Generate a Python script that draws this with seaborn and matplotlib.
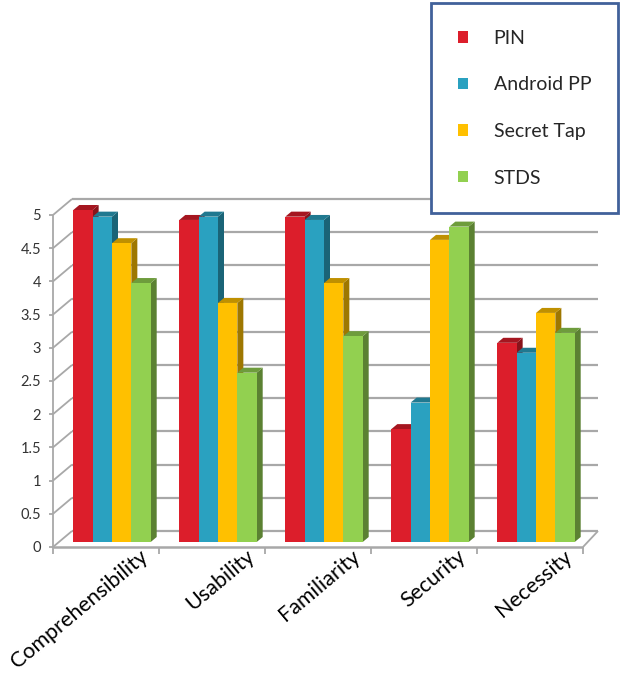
import numpy as np
import pandas as pd
import matplotlib
matplotlib.use('Agg')
import matplotlib.pyplot as plt
import seaborn as sns
from matplotlib.patches import Polygon, Patch
from matplotlib.lines import Line2D
from matplotlib.transforms import ScaledTranslation

# ---------------- data ----------------
categories = ['Comprehensibility', 'Usability', 'Familiarity', 'Security', 'Necessity']
methods = ['PIN', 'Android PP', 'Secret Tap', 'STDS']
pin = [5.0, 4.85, 4.9, 1.7, 3.0]
android_pp = [4.9, 4.9, 4.85, 2.1, 2.85]
secret_tap = [4.5, 3.6, 3.9, 4.55, 3.45]
stds = [3.9, 2.55, 3.1, 4.75, 3.15]
yticks = [0, 0.5, 1, 1.5, 2, 2.5, 3, 3.5, 4, 4.5, 5]
ytick_labels = ['0', '0.5', '1', '1.5', '2', '2.5', '3', '3.5', '4', '4.5', '5']
colors = ['#DC1E2B', '#2AA1C0', '#FFC000', '#92D050']

df = pd.DataFrame({
    'category': categories * 4,
    'method': np.repeat(methods, len(categories)),
    'score': pin + android_pp + secret_tap + stds,
})

sns.set_theme(style='white')
plt.rcParams['font.family'] = ['Lato', 'DejaVu Sans']

W, H = 622, 674
fig = plt.figure(figsize=(W / 100, H / 100), dpi=100)
# axes = plane in which the bar fronts stand
ax = fig.add_axes([59 / W, (H - 542) / H, 530 / W, 332 / H])
ax.set_facecolor('none')

sns.barplot(data=df, x='category', y='score', hue='method', order=categories,
            hue_order=methods, palette=colors, width=0.73, gap=0,
            saturation=1, legend=False, ax=ax)

ax.set_xlim(-0.5, 4.5)
ax.set_ylim(0, 5)
for s in ax.spines.values():
    s.set_visible(False)

# pixel -> data units
ux = 5 / 530
uy = 5 / 332
GRID = '#A8A8A8'


def seg(x0, y0, x1, y1, lw=1.3):
    ax.add_line(Line2D([x0, x1], [y0, y1], color=GRID, lw=lw,
                       clip_on=False, zorder=1, solid_capstyle='butt'))


xl, xr = -0.5, 4.5
# back wall gridlines + left wall diagonals
for v in yticks:
    seg(xl + 13 * ux, v + 11 * uy, xr + 9 * ux, v + 11 * uy, lw=1.6)
    seg(xl - 6 * ux, v - 5 * uy, xl + 13 * ux, v + 11 * uy)
    seg(xl - 10 * ux, v - 5 * uy, xl - 6 * ux, v - 5 * uy)
# front axis lines
seg(xl - 6 * ux, -5 * uy, xl - 6 * ux, 5 - 5 * uy)
seg(xl - 6 * ux, -5 * uy, xr - 6 * ux, -5 * uy, lw=1.8)
seg(xr - 6 * ux, -5 * uy, xr + 9 * ux, 11 * uy)
for b in np.arange(-0.5, 4.6, 1.0):
    seg(b - 6 * ux, -5 * uy, b - 6 * ux, -12 * uy)

# 3D faces of the bars
dx, dy = 6 * ux, 5 * uy
bars = sorted(ax.patches, key=lambda p: p.get_x())
for k, p in enumerate(bars):
    x, w, h = p.get_x(), p.get_width(), p.get_height()
    fc = np.array(p.get_facecolor()[:3])
    p.set_edgecolor('none')
    p.set_zorder(3 + k * 0.1)
    p.set_clip_on(False)
    side = Polygon([(x + w, 0), (x + w, h), (x + w + dx, h + dy), (x + w + dx, dy)],
                   closed=True, facecolor=fc * 0.62, edgecolor='none',
                   zorder=3 + k * 0.1 - 0.05, clip_on=False)
    top = Polygon([(x, h), (x + w, h), (x + w + dx, h + dy), (x + dx, h + dy)],
                  closed=True, facecolor=fc * 0.75, edgecolor='none',
                  zorder=3 + k * 0.1 - 0.05, clip_on=False)
    ax.add_patch(side)
    ax.add_patch(top)

# ticks and labels
ax.set_yticks(yticks, ytick_labels)
ax.tick_params(axis='y', length=0, pad=13, labelsize=10.5, labelcolor='#333333')
for lab in ax.get_yticklabels():
    lab.set_transform(lab.get_transform() + ScaledTranslation(0, -0.05, fig.dpi_scale_trans))

ax.set_xticks(range(len(categories)), categories, rotation=40, ha='right',
              va='top', rotation_mode='anchor')
ax.tick_params(axis='x', length=0, pad=0, labelsize=15.5, labelcolor='black')
for lab in ax.get_xticklabels():
    lab.set_transform(lab.get_transform() + ScaledTranslation(0.27, -0.04, fig.dpi_scale_trans))
ax.set_xlabel('')
ax.set_ylabel('')

# legend
handles = [Patch(facecolor=c, edgecolor='none') for c in colors]
leg = fig.legend(handles, methods, loc='upper right',
                 bbox_to_anchor=(618 / W, 671 / H), borderaxespad=0,
                 fontsize=14, frameon=True, fancybox=False,
                 handlelength=0.55, handleheight=0.55, handletextpad=1.3,
                 labelspacing=1.52, borderpad=1.38)
frame = leg.get_frame()
frame.set_edgecolor('#41619A')
frame.set_linewidth(2)
frame.set_facecolor('white')
frame.set_alpha(1)

fig.savefig('out.png', dpi=100)
